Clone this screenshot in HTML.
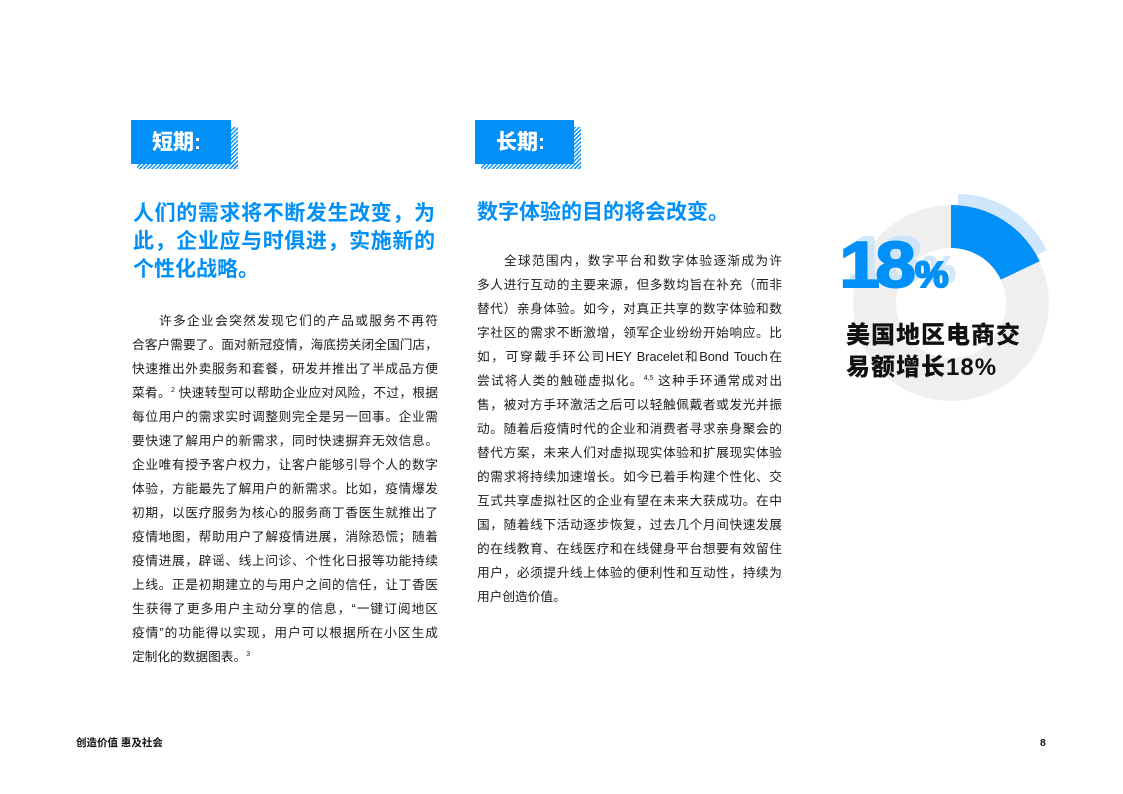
<!DOCTYPE html>
<html lang="zh-CN">
<head>
<meta charset="utf-8">
<style>
  html, body { margin:0; padding:0; background:#fff; }
  body { width:1123px; height:794px; position:relative; overflow:hidden;
         font-family:"Liberation Sans","Noto Sans CJK SC",sans-serif; }
  svg.bg { position:absolute; left:0; top:0; }
  .tag { position:absolute; color:#fff; font-weight:900; font-size:21px; line-height:46px; height:43px;
         font-family:"Liberation Sans","Noto Sans CJK SC",sans-serif; }
  .head { position:absolute; color:#0090f7; font-weight:700; font-size:21px; line-height:28px; }
  .head div { white-space:nowrap; }
  .head .j { text-align:justify; text-align-last:justify; white-space:normal; }
  .body { position:absolute; width:306px; font-size:12.7px; line-height:24px; color:#1c1c1c; }
  .body div { height:24px; }
  .body .j { text-align:justify; text-align-last:justify; }
  .body .ind { text-indent:27px; }
  .sup { font-size:7px; position:relative; top:-5px; }
  .label { position:absolute; left:846px; top:320px; font-size:24px; line-height:32px; font-weight:900;
           color:#111; letter-spacing:1px; white-space:nowrap; }
  .foot { position:absolute; top:736px; font-size:10.5px; line-height:14px; font-weight:700; color:#111; white-space:nowrap; }
</style>
</head>
<body>
<svg class="bg" width="1123" height="794" viewBox="0 0 1123 794" xmlns="http://www.w3.org/2000/svg">
  <defs>
    <pattern id="hatch" patternUnits="userSpaceOnUse" width="2.9" height="2.9" patternTransform="rotate(45)">
      <rect x="0" y="0" width="1.4" height="2.9" fill="#0090f7"/>
    </pattern>
  </defs>
  <!-- short-term tag -->
  <rect x="231" y="127" width="7" height="42" fill="url(#hatch)"/>
  <rect x="137" y="164" width="101" height="5" fill="url(#hatch)"/>
  <rect x="131" y="120" width="100" height="44" fill="#0090f7"/>
  <!-- long-term tag -->
  <rect x="574" y="127" width="7" height="42" fill="url(#hatch)"/>
  <rect x="481" y="164" width="100" height="5" fill="url(#hatch)"/>
  <rect x="475" y="120" width="99" height="44" fill="#0090f7"/>

  <!-- donut -->
  <path d="M958,194 A98,98 0 0 1 1046.67,250.27 L1007.76,268.58 A55,55 0 0 0 958,237 Z" fill="#cfe6fb"/>
  <circle cx="951" cy="303" r="76.5" fill="none" stroke="#efefef" stroke-width="43"/>
  <path d="M951,205 A98,98 0 0 1 1039.67,261.27 L1000.76,279.58 A55,55 0 0 0 951,248 Z" fill="#0090f7"/>

  <!-- 18% shadow -->
  <g fill="#c9e3fa" stroke="#c9e3fa" stroke-width="2" font-family="Liberation Sans, sans-serif" font-weight="700" opacity="0.85">
    <text transform="translate(852,282) scale(1.12,1)" x="-5" y="0" font-size="65" letter-spacing="-4">18</text>
    <text transform="translate(922,282) scale(1.05,1)" x="0" y="0" font-size="36">%</text>
  </g>
  <g fill="#0090f7" stroke="#0090f7" stroke-width="2" font-family="Liberation Sans, sans-serif" font-weight="700">
    <text transform="translate(845,287) scale(1.12,1)" x="-5" y="0" font-size="65" letter-spacing="-4">18</text>
    <text transform="translate(915,287) scale(1.05,1)" x="0" y="0" font-size="36">%</text>
  </g>
</svg>

<div class="tag" style="left:152px;top:120px;">短期<span style="font-family:'Liberation Sans',sans-serif;font-weight:700;">:</span></div>
<div class="tag" style="left:496px;top:120px;">长期<span style="font-family:'Liberation Sans',sans-serif;font-weight:700;">:</span></div>

<div class="head" style="left:133px;top:200px;width:302px;">
  <div class="j">人们的需求将不断发生改变，为</div>
  <div class="j">此，企业应与时俱进，实施新的</div>
  <div>个性化战略。</div>
</div>

<div class="head" style="left:477px;top:199px;">
  <div>数字体验的目的将会改变。</div>
</div>

<div class="body" style="left:132px;top:309px;">
  <div class="j ind">许多企业会突然发现它们的产品或服务不再符</div>
  <div class="j">合客户需要了。面对新冠疫情，海底捞关闭全国门店，</div>
  <div class="j">快速推出外卖服务和套餐，研发并推出了半成品方便</div>
  <div class="j">菜肴。<span class="sup">2</span> 快速转型可以帮助企业应对风险，不过，根据</div>
  <div class="j">每位用户的需求实时调整则完全是另一回事。企业需</div>
  <div class="j">要快速了解用户的新需求，同时快速摒弃无效信息。</div>
  <div class="j">企业唯有授予客户权力，让客户能够引导个人的数字</div>
  <div class="j">体验，方能最先了解用户的新需求。比如，疫情爆发</div>
  <div class="j">初期，以医疗服务为核心的服务商丁香医生就推出了</div>
  <div class="j">疫情地图，帮助用户了解疫情进展，消除恐慌；随着</div>
  <div class="j">疫情进展，辟谣、线上问诊、个性化日报等功能持续</div>
  <div class="j">上线。正是初期建立的与用户之间的信任，让丁香医</div>
  <div class="j">生获得了更多用户主动分享的信息，“一键订阅地区</div>
  <div class="j">疫情”的功能得以实现，用户可以根据所在小区生成</div>
  <div>定制化的数据图表。<span class="sup">3</span></div>
</div>

<div class="body" style="left:477px;top:249px;width:305px;">
  <div class="j ind">全球范围内，数字平台和数字体验逐渐成为许</div>
  <div class="j">多人进行互动的主要来源，但多数均旨在补充（而非</div>
  <div class="j">替代）亲身体验。如今，对真正共享的数字体验和数</div>
  <div class="j">字社区的需求不断激增，领军企业纷纷开始响应。比</div>
  <div class="j">如，可穿戴手环公司HEY Bracelet和Bond Touch在</div>
  <div class="j">尝试将人类的触碰虚拟化。<span class="sup">4,5</span> 这种手环通常成对出</div>
  <div class="j">售，被对方手环激活之后可以轻触佩戴者或发光并振</div>
  <div class="j">动。随着后疫情时代的企业和消费者寻求亲身聚会的</div>
  <div class="j">替代方案，未来人们对虚拟现实体验和扩展现实体验</div>
  <div class="j">的需求将持续加速增长。如今已着手构建个性化、交</div>
  <div class="j">互式共享虚拟社区的企业有望在未来大获成功。在中</div>
  <div class="j">国，随着线下活动逐步恢复，过去几个月间快速发展</div>
  <div class="j">的在线教育、在线医疗和在线健身平台想要有效留住</div>
  <div class="j">用户，必须提升线上体验的便利性和互动性，持续为</div>
  <div>用户创造价值。</div>
</div>

<div class="label">美国地区电商交<br>易额增长18%</div>

<div class="foot" style="left:76px;">创造价值 惠及社会</div>
<div class="foot" style="left:1040px;">8</div>
</body>
</html>
